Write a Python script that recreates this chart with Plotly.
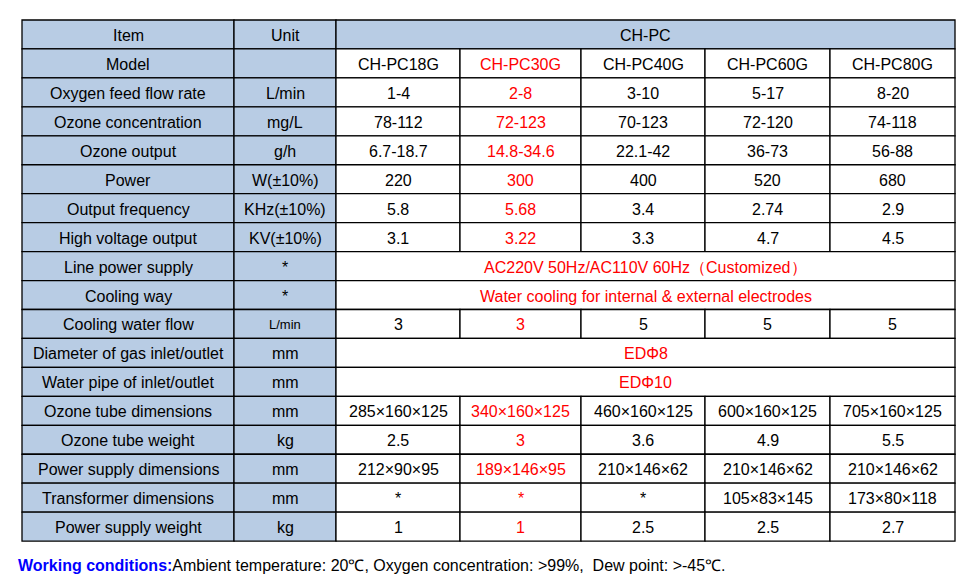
import plotly.graph_objects as go

# table content
items = ["Item", "Model", "Oxygen feed flow rate", "Ozone concentration", "Ozone output",
         "Power", "Output frequency", "High voltage output", "Line power supply",
         "Cooling way", "Cooling water flow", "Diameter of gas inlet/outlet",
         "Water pipe of inlet/outlet", "Ozone tube dimensions", "Ozone tube weight",
         "Power supply dimensions", "Transformer dimensions", "Power supply weight"]
units = ["Unit", "", "L/min", "mg/L", "g/h", "W(±10%)", "KHz(±10%)", "KV(±10%)",
         "*", "*", "L/min", "mm", "mm", "mm", "kg", "mm", "mm", "kg"]
values = [
    ["CH-PC"],
    ["CH-PC18G", "CH-PC30G", "CH-PC40G", "CH-PC60G", "CH-PC80G"],
    ["1-4", "2-8", "3-10", "5-17", "8-20"],
    ["78-112", "72-123", "70-123", "72-120", "74-118"],
    ["6.7-18.7", "14.8-34.6", "22.1-42", "36-73", "56-88"],
    ["220", "300", "400", "520", "680"],
    ["5.8", "5.68", "3.4", "2.74", "2.9"],
    ["3.1", "3.22", "3.3", "4.7", "4.5"],
    ["AC220V 50Hz/AC110V 60Hz（Customized）"],
    ["Water cooling for internal & external electrodes"],
    ["3", "3", "5", "5", "5"],
    ["EDΦ8"],
    ["EDΦ10"],
    ["285×160×125", "340×160×125", "460×160×125", "600×160×125", "705×160×125"],
    ["2.5", "3", "3.6", "4.9", "5.5"],
    ["212×90×95", "189×146×95", "210×146×62", "210×146×62", "210×146×62"],
    ["*", "*", "*", "105×83×145", "173×80×118"],
    ["1", "1", "2.5", "2.5", "2.7"],
]
highlight_col = 1  # CH-PC30G in red

# geometry (pixels); page body adds an 8px offset, so shift back
off = 8
col_x = [22 - off, 234 - off, 336 - off, 460 - off, 581 - off, 705 - off, 830 - off, 955 - off]
top, row_h = 20 - off, 28.95
blue = "#b8cce4"
red = "#ff0000"
font = "Liberation Sans, Arial, sans-serif"

fig = go.Figure()
shapes, ann = [], []

def cell(x0, x1, y0, y1, fill):
    shapes.append(dict(type="rect", x0=x0, x1=x1, y0=y0, y1=y1, xref="x", yref="y",
                       fillcolor=fill, line=dict(color="black", width=1.3), layer="below"))

def text(x, y, s, color="black", size=16):
    ann.append(dict(x=x, y=y, text=s, showarrow=False, xref="x", yref="y",
                    font=dict(family=font, size=size, color=color)))

for r, (it, un, vals) in enumerate(zip(items, units, values)):
    y0, y1 = top + r * row_h, top + (r + 1) * row_h
    ym = (y0 + y1) / 2 + 1
    cell(col_x[0], col_x[1], y0, y1, blue)
    cell(col_x[1], col_x[2], y0, y1, blue)
    text((col_x[0] + col_x[1]) / 2, ym, it)
    text((col_x[1] + col_x[2]) / 2, ym, un, size=13 if r == 10 else 16)
    if len(vals) == 1:
        cell(col_x[2], col_x[-1], y0, y1, blue if r == 0 else "white")
        text((col_x[2] + col_x[-1]) / 2, ym, vals[0], "black" if r == 0 else red)
    else:
        for c, v in enumerate(vals):
            cell(col_x[2 + c], col_x[3 + c], y0, y1, "white")
            text((col_x[2 + c] + col_x[3 + c]) / 2, ym, v,
                 red if c == highlight_col else "black")

ann.append(dict(x=16 - off, y=565 - off, xref="x", yref="y", xanchor="left", showarrow=False,
                text="<b><span style='color:#0000ff'>Working conditions:</span></b>"
                     "Ambient temperature: 20℃, Oxygen concentration: >99%,  Dew point: >-45℃.",
                font=dict(family=font, size=16, color="black")))

fig.update_layout(width=979, height=588, margin=dict(l=0, r=0, t=0, b=0),
                  plot_bgcolor="white", paper_bgcolor="white",
                  shapes=shapes, annotations=ann, showlegend=False)
fig.update_xaxes(range=[0, 979], visible=False, fixedrange=True)
fig.update_yaxes(range=[588, 0], visible=False, fixedrange=True)
fig.write_html("out.html")
